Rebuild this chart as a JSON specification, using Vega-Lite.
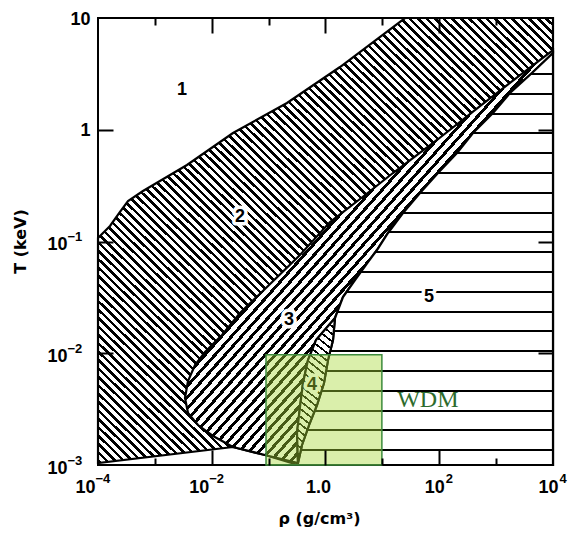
{
"$schema": "https://vega.github.io/schema/vega-lite/v6.json",
"width": 455,
"height": 447,
"autosize": {"type": "none"},
"padding": {"left": 98, "top": 18, "right": 17, "bottom": 70},
"background": "white",
"config": {"view": {"stroke": "black", "strokeWidth": 2},
"axis": {"domain": false, "grid": false, "labelFont": "Liberation Sans", "labelFontWeight": "bold", "labelColor": "black", "labelFlush": false, "labelOverlap": false, "tickColor": "black"}},
"datasets": {
"r2": [
{"i":0,"rho":0.0001,"T":0.1075},{"i":1,"rho":0.0001626,"T":0.1376},{"i":2,"rho":0.0002436,"T":0.1837},{"i":3,"rho":0.000337,"T":0.2304},{"i":4,"rho":0.000618,"T":0.2831},{"i":5,"rho":0.00367,"T":0.4838},{"i":6,"rho":0.02363,"T":0.935},{"i":7,"rho":0.2103,"T":1.735},{"i":8,"rho":1.799,"T":3.643},{"i":9,"rho":25,"T":10},{"i":10,"rho":10000,"T":10},{"i":11,"rho":10000,"T":0.001},{"i":12,"rho":0.3284,"T":0.001},{"i":13,"rho":0.08635,"T":0.001229},{"i":14,"rho":0.02363,"T":0.001449},{"i":15,"rho":0.0001,"T":0.001042}
],
"r3": [
{"i":0,"rho":10000,"T":5.171},{"i":1,"rho":3634,"T":3.496},{"i":2,"rho":520.6,"T":1.631},{"i":3,"rho":91.3,"T":0.8097},{"i":4,"rho":15.37,"T":0.4102},{"i":5,"rho":4.043,"T":0.2401},{"i":6,"rho":1.2,"T":0.1494},{"i":7,"rho":0.3561,"T":0.07571},{"i":8,"rho":0.09363,"T":0.03915},{"i":9,"rho":0.03138,"T":0.02292},{"i":10,"rho":0.01515,"T":0.01457},{"i":11,"rho":0.00761,"T":0.01026},{"i":12,"rho":0.005075,"T":0.00785},{"i":13,"rho":0.003824,"T":0.005645},{"i":14,"rho":0.003386,"T":0.003977},{"i":15,"rho":0.003824,"T":0.002919},{"i":16,"rho":0.00573,"T":0.002279},{"i":17,"rho":0.01052,"T":0.001818},{"i":18,"rho":0.02363,"T":0.001449},{"i":19,"rho":0.08635,"T":0.001229},{"i":20,"rho":0.3284,"T":0.001042},{"i":21,"rho":0.3155,"T":0.001934},{"i":22,"rho":0.3561,"T":0.003304},{"i":23,"rho":0.4022,"T":0.005418},{"i":24,"rho":0.4925,"T":0.0087},{"i":25,"rho":0.6808,"T":0.01314},{"i":26,"rho":1.469,"T":0.02067},{"i":27,"rho":2.031,"T":0.03187},{"i":28,"rho":3.302,"T":0.04523},{"i":29,"rho":5.588,"T":0.06555},{"i":30,"rho":8.045,"T":0.08393},{"i":31,"rho":12.56,"T":0.1192},{"i":32,"rho":23.04,"T":0.1799},{"i":33,"rho":45.86,"T":0.2716},{"i":34,"rho":95.06,"T":0.4102},{"i":35,"rho":205.2,"T":0.6193},{"i":36,"rho":392.1,"T":0.935},{"i":37,"rho":881.4,"T":1.412},{"i":38,"rho":1754,"T":2.132},{"i":39,"rho":4273,"T":3.219},{"i":40,"rho":10000,"T":4.862}
],
"r5": [
{"i":0,"rho":10000,"T":4.862},{"i":1,"rho":4273,"T":3.219},{"i":2,"rho":1754,"T":2.132},{"i":3,"rho":881.4,"T":1.412},{"i":4,"rho":392.1,"T":0.935},{"i":5,"rho":205.2,"T":0.6193},{"i":6,"rho":95.06,"T":0.4102},{"i":7,"rho":45.86,"T":0.2716},{"i":8,"rho":23.04,"T":0.1799},{"i":9,"rho":12.56,"T":0.1192},{"i":10,"rho":8.045,"T":0.08393},{"i":11,"rho":5.588,"T":0.06555},{"i":12,"rho":3.302,"T":0.04523},{"i":13,"rho":2.031,"T":0.03187},{"i":14,"rho":1.469,"T":0.02067},{"i":15,"rho":1.355,"T":0.01314},{"i":16,"rho":1.107,"T":0.0087},{"i":17,"rho":0.941,"T":0.005418},{"i":18,"rho":0.7087,"T":0.003442},{"i":19,"rho":0.5128,"T":0.002279},{"i":20,"rho":0.3862,"T":0.00151},{"i":21,"rho":0.3284,"T":0.001042},{"i":22,"rho":0.3284,"T":0.001},{"i":23,"rho":10000,"T":0.001}
],
"r4": [
{"i":0,"rho":1.469,"T":0.02067},{"i":1,"rho":1.355,"T":0.01314},{"i":2,"rho":1.107,"T":0.0087},{"i":3,"rho":0.941,"T":0.005418},{"i":4,"rho":0.7087,"T":0.003442},{"i":5,"rho":0.5128,"T":0.002279},{"i":6,"rho":0.3862,"T":0.00151},{"i":7,"rho":0.3284,"T":0.001042},{"i":8,"rho":0.3155,"T":0.001934},{"i":9,"rho":0.3561,"T":0.003304},{"i":10,"rho":0.4022,"T":0.005418},{"i":11,"rho":0.4925,"T":0.0087},{"i":12,"rho":0.6808,"T":0.01314}
],
"labels": [
{"rho":0.003,"T":2.046,"t":"1"},{"rho":0.03138,"T":0.1494,"t":"2"},{"rho":0.2281,"T":0.0179,"t":"3"},{"rho":0.5789,"T":0.00469,"t":"4"},{"rho":66.0,"T":0.02874,"t":"5"}
],
"box": [{"rho":0.09,"rho2":9.8,"T":0.001,"T2":0.0097}],
"wdm": [{"rho":63,"T":0.0033,"t":"WDM"}]
},
"resolve": {"axis": {"x": "independent", "y": "independent"}},
"layer": [
{
"data": {"name": "r2"},
"mark": {"type": "line", "interpolate": "linear-closed", "stroke": "black", "strokeWidth": 2.2,
"fill": {"gradient": "linear", "x1": 0, "y1": 1, "x2": 1, "y2": 0, "stops": [
{"offset":0.003,"color":"#fff"},{"offset":0.003,"color":"#000"},{"offset":0.007,"color":"#000"},{"offset":0.007,"color":"#fff"},
{"offset":0.0124,"color":"#fff"},{"offset":0.0124,"color":"#000"},{"offset":0.0164,"color":"#000"},{"offset":0.0164,"color":"#fff"},
{"offset":0.0218,"color":"#fff"},{"offset":0.0218,"color":"#000"},{"offset":0.0258,"color":"#000"},{"offset":0.0258,"color":"#fff"},
{"offset":0.0312,"color":"#fff"},{"offset":0.0312,"color":"#000"},{"offset":0.0352,"color":"#000"},{"offset":0.0352,"color":"#fff"},
{"offset":0.0406,"color":"#fff"},{"offset":0.0406,"color":"#000"},{"offset":0.0446,"color":"#000"},{"offset":0.0446,"color":"#fff"},
{"offset":0.05,"color":"#fff"},{"offset":0.05,"color":"#000"},{"offset":0.054,"color":"#000"},{"offset":0.054,"color":"#fff"},
{"offset":0.0594,"color":"#fff"},{"offset":0.0594,"color":"#000"},{"offset":0.0634,"color":"#000"},{"offset":0.0634,"color":"#fff"},
{"offset":0.0688,"color":"#fff"},{"offset":0.0688,"color":"#000"},{"offset":0.0728,"color":"#000"},{"offset":0.0728,"color":"#fff"},
{"offset":0.0782,"color":"#fff"},{"offset":0.0782,"color":"#000"},{"offset":0.0822,"color":"#000"},{"offset":0.0822,"color":"#fff"},
{"offset":0.0876,"color":"#fff"},{"offset":0.0876,"color":"#000"},{"offset":0.0916,"color":"#000"},{"offset":0.0916,"color":"#fff"},
{"offset":0.097,"color":"#fff"},{"offset":0.097,"color":"#000"},{"offset":0.101,"color":"#000"},{"offset":0.101,"color":"#fff"},
{"offset":0.1064,"color":"#fff"},{"offset":0.1064,"color":"#000"},{"offset":0.1104,"color":"#000"},{"offset":0.1104,"color":"#fff"},
{"offset":0.1158,"color":"#fff"},{"offset":0.1158,"color":"#000"},{"offset":0.1198,"color":"#000"},{"offset":0.1198,"color":"#fff"},
{"offset":0.1252,"color":"#fff"},{"offset":0.1252,"color":"#000"},{"offset":0.1292,"color":"#000"},{"offset":0.1292,"color":"#fff"},
{"offset":0.1346,"color":"#fff"},{"offset":0.1346,"color":"#000"},{"offset":0.1386,"color":"#000"},{"offset":0.1386,"color":"#fff"},
{"offset":0.144,"color":"#fff"},{"offset":0.144,"color":"#000"},{"offset":0.148,"color":"#000"},{"offset":0.148,"color":"#fff"},
{"offset":0.1534,"color":"#fff"},{"offset":0.1534,"color":"#000"},{"offset":0.1574,"color":"#000"},{"offset":0.1574,"color":"#fff"},
{"offset":0.1628,"color":"#fff"},{"offset":0.1628,"color":"#000"},{"offset":0.1668,"color":"#000"},{"offset":0.1668,"color":"#fff"},
{"offset":0.1722,"color":"#fff"},{"offset":0.1722,"color":"#000"},{"offset":0.1762,"color":"#000"},{"offset":0.1762,"color":"#fff"},
{"offset":0.1816,"color":"#fff"},{"offset":0.1816,"color":"#000"},{"offset":0.1856,"color":"#000"},{"offset":0.1856,"color":"#fff"},
{"offset":0.191,"color":"#fff"},{"offset":0.191,"color":"#000"},{"offset":0.195,"color":"#000"},{"offset":0.195,"color":"#fff"},
{"offset":0.2004,"color":"#fff"},{"offset":0.2004,"color":"#000"},{"offset":0.2044,"color":"#000"},{"offset":0.2044,"color":"#fff"},
{"offset":0.2098,"color":"#fff"},{"offset":0.2098,"color":"#000"},{"offset":0.2138,"color":"#000"},{"offset":0.2138,"color":"#fff"},
{"offset":0.2192,"color":"#fff"},{"offset":0.2192,"color":"#000"},{"offset":0.2232,"color":"#000"},{"offset":0.2232,"color":"#fff"},
{"offset":0.2286,"color":"#fff"},{"offset":0.2286,"color":"#000"},{"offset":0.2326,"color":"#000"},{"offset":0.2326,"color":"#fff"},
{"offset":0.238,"color":"#fff"},{"offset":0.238,"color":"#000"},{"offset":0.242,"color":"#000"},{"offset":0.242,"color":"#fff"},
{"offset":0.2474,"color":"#fff"},{"offset":0.2474,"color":"#000"},{"offset":0.2514,"color":"#000"},{"offset":0.2514,"color":"#fff"},
{"offset":0.2568,"color":"#fff"},{"offset":0.2568,"color":"#000"},{"offset":0.2608,"color":"#000"},{"offset":0.2608,"color":"#fff"},
{"offset":0.2662,"color":"#fff"},{"offset":0.2662,"color":"#000"},{"offset":0.2702,"color":"#000"},{"offset":0.2702,"color":"#fff"},
{"offset":0.2756,"color":"#fff"},{"offset":0.2756,"color":"#000"},{"offset":0.2796,"color":"#000"},{"offset":0.2796,"color":"#fff"},
{"offset":0.285,"color":"#fff"},{"offset":0.285,"color":"#000"},{"offset":0.289,"color":"#000"},{"offset":0.289,"color":"#fff"},
{"offset":0.2944,"color":"#fff"},{"offset":0.2944,"color":"#000"},{"offset":0.2984,"color":"#000"},{"offset":0.2984,"color":"#fff"},
{"offset":0.3038,"color":"#fff"},{"offset":0.3038,"color":"#000"},{"offset":0.3078,"color":"#000"},{"offset":0.3078,"color":"#fff"},
{"offset":0.3132,"color":"#fff"},{"offset":0.3132,"color":"#000"},{"offset":0.3172,"color":"#000"},{"offset":0.3172,"color":"#fff"},
{"offset":0.3226,"color":"#fff"},{"offset":0.3226,"color":"#000"},{"offset":0.3266,"color":"#000"},{"offset":0.3266,"color":"#fff"},
{"offset":0.332,"color":"#fff"},{"offset":0.332,"color":"#000"},{"offset":0.336,"color":"#000"},{"offset":0.336,"color":"#fff"},
{"offset":0.3414,"color":"#fff"},{"offset":0.3414,"color":"#000"},{"offset":0.3454,"color":"#000"},{"offset":0.3454,"color":"#fff"},
{"offset":0.3508,"color":"#fff"},{"offset":0.3508,"color":"#000"},{"offset":0.3548,"color":"#000"},{"offset":0.3548,"color":"#fff"},
{"offset":0.3602,"color":"#fff"},{"offset":0.3602,"color":"#000"},{"offset":0.3642,"color":"#000"},{"offset":0.3642,"color":"#fff"},
{"offset":0.3696,"color":"#fff"},{"offset":0.3696,"color":"#000"},{"offset":0.3736,"color":"#000"},{"offset":0.3736,"color":"#fff"},
{"offset":0.379,"color":"#fff"},{"offset":0.379,"color":"#000"},{"offset":0.383,"color":"#000"},{"offset":0.383,"color":"#fff"},
{"offset":0.3884,"color":"#fff"},{"offset":0.3884,"color":"#000"},{"offset":0.3924,"color":"#000"},{"offset":0.3924,"color":"#fff"},
{"offset":0.3978,"color":"#fff"},{"offset":0.3978,"color":"#000"},{"offset":0.4018,"color":"#000"},{"offset":0.4018,"color":"#fff"},
{"offset":0.4072,"color":"#fff"},{"offset":0.4072,"color":"#000"},{"offset":0.4112,"color":"#000"},{"offset":0.4112,"color":"#fff"},
{"offset":0.4166,"color":"#fff"},{"offset":0.4166,"color":"#000"},{"offset":0.4206,"color":"#000"},{"offset":0.4206,"color":"#fff"},
{"offset":0.426,"color":"#fff"},{"offset":0.426,"color":"#000"},{"offset":0.43,"color":"#000"},{"offset":0.43,"color":"#fff"},
{"offset":0.4354,"color":"#fff"},{"offset":0.4354,"color":"#000"},{"offset":0.4394,"color":"#000"},{"offset":0.4394,"color":"#fff"},
{"offset":0.4448,"color":"#fff"},{"offset":0.4448,"color":"#000"},{"offset":0.4488,"color":"#000"},{"offset":0.4488,"color":"#fff"},
{"offset":0.4542,"color":"#fff"},{"offset":0.4542,"color":"#000"},{"offset":0.4582,"color":"#000"},{"offset":0.4582,"color":"#fff"},
{"offset":0.4636,"color":"#fff"},{"offset":0.4636,"color":"#000"},{"offset":0.4676,"color":"#000"},{"offset":0.4676,"color":"#fff"},
{"offset":0.473,"color":"#fff"},{"offset":0.473,"color":"#000"},{"offset":0.477,"color":"#000"},{"offset":0.477,"color":"#fff"},
{"offset":0.4824,"color":"#fff"},{"offset":0.4824,"color":"#000"},{"offset":0.4864,"color":"#000"},{"offset":0.4864,"color":"#fff"},
{"offset":0.4918,"color":"#fff"},{"offset":0.4918,"color":"#000"},{"offset":0.4958,"color":"#000"},{"offset":0.4958,"color":"#fff"},
{"offset":0.5012,"color":"#fff"},{"offset":0.5012,"color":"#000"},{"offset":0.5052,"color":"#000"},{"offset":0.5052,"color":"#fff"},
{"offset":0.5106,"color":"#fff"},{"offset":0.5106,"color":"#000"},{"offset":0.5146,"color":"#000"},{"offset":0.5146,"color":"#fff"},
{"offset":0.52,"color":"#fff"},{"offset":0.52,"color":"#000"},{"offset":0.524,"color":"#000"},{"offset":0.524,"color":"#fff"},
{"offset":0.5294,"color":"#fff"},{"offset":0.5294,"color":"#000"},{"offset":0.5334,"color":"#000"},{"offset":0.5334,"color":"#fff"},
{"offset":0.5388,"color":"#fff"},{"offset":0.5388,"color":"#000"},{"offset":0.5428,"color":"#000"},{"offset":0.5428,"color":"#fff"},
{"offset":0.5482,"color":"#fff"},{"offset":0.5482,"color":"#000"},{"offset":0.5522,"color":"#000"},{"offset":0.5522,"color":"#fff"},
{"offset":0.5576,"color":"#fff"},{"offset":0.5576,"color":"#000"},{"offset":0.5616,"color":"#000"},{"offset":0.5616,"color":"#fff"},
{"offset":0.567,"color":"#fff"},{"offset":0.567,"color":"#000"},{"offset":0.571,"color":"#000"},{"offset":0.571,"color":"#fff"},
{"offset":0.5764,"color":"#fff"},{"offset":0.5764,"color":"#000"},{"offset":0.5804,"color":"#000"},{"offset":0.5804,"color":"#fff"},
{"offset":0.5858,"color":"#fff"},{"offset":0.5858,"color":"#000"},{"offset":0.5898,"color":"#000"},{"offset":0.5898,"color":"#fff"},
{"offset":0.5952,"color":"#fff"},{"offset":0.5952,"color":"#000"},{"offset":0.5992,"color":"#000"},{"offset":0.5992,"color":"#fff"},
{"offset":0.6046,"color":"#fff"},{"offset":0.6046,"color":"#000"},{"offset":0.6086,"color":"#000"},{"offset":0.6086,"color":"#fff"},
{"offset":0.614,"color":"#fff"},{"offset":0.614,"color":"#000"},{"offset":0.618,"color":"#000"},{"offset":0.618,"color":"#fff"},
{"offset":0.6234,"color":"#fff"},{"offset":0.6234,"color":"#000"},{"offset":0.6274,"color":"#000"},{"offset":0.6274,"color":"#fff"},
{"offset":0.6328,"color":"#fff"},{"offset":0.6328,"color":"#000"},{"offset":0.6368,"color":"#000"},{"offset":0.6368,"color":"#fff"},
{"offset":0.6422,"color":"#fff"},{"offset":0.6422,"color":"#000"},{"offset":0.6462,"color":"#000"},{"offset":0.6462,"color":"#fff"},
{"offset":0.6516,"color":"#fff"},{"offset":0.6516,"color":"#000"},{"offset":0.6556,"color":"#000"},{"offset":0.6556,"color":"#fff"},
{"offset":0.661,"color":"#fff"},{"offset":0.661,"color":"#000"},{"offset":0.665,"color":"#000"},{"offset":0.665,"color":"#fff"},
{"offset":0.6704,"color":"#fff"},{"offset":0.6704,"color":"#000"},{"offset":0.6744,"color":"#000"},{"offset":0.6744,"color":"#fff"},
{"offset":0.6798,"color":"#fff"},{"offset":0.6798,"color":"#000"},{"offset":0.6838,"color":"#000"},{"offset":0.6838,"color":"#fff"},
{"offset":0.6892,"color":"#fff"},{"offset":0.6892,"color":"#000"},{"offset":0.6932,"color":"#000"},{"offset":0.6932,"color":"#fff"},
{"offset":0.6986,"color":"#fff"},{"offset":0.6986,"color":"#000"},{"offset":0.7026,"color":"#000"},{"offset":0.7026,"color":"#fff"},
{"offset":0.708,"color":"#fff"},{"offset":0.708,"color":"#000"},{"offset":0.712,"color":"#000"},{"offset":0.712,"color":"#fff"},
{"offset":0.7174,"color":"#fff"},{"offset":0.7174,"color":"#000"},{"offset":0.7214,"color":"#000"},{"offset":0.7214,"color":"#fff"},
{"offset":0.7268,"color":"#fff"},{"offset":0.7268,"color":"#000"},{"offset":0.7308,"color":"#000"},{"offset":0.7308,"color":"#fff"},
{"offset":0.7362,"color":"#fff"},{"offset":0.7362,"color":"#000"},{"offset":0.7402,"color":"#000"},{"offset":0.7402,"color":"#fff"},
{"offset":0.7456,"color":"#fff"},{"offset":0.7456,"color":"#000"},{"offset":0.7496,"color":"#000"},{"offset":0.7496,"color":"#fff"},
{"offset":0.755,"color":"#fff"},{"offset":0.755,"color":"#000"},{"offset":0.759,"color":"#000"},{"offset":0.759,"color":"#fff"},
{"offset":0.7644,"color":"#fff"},{"offset":0.7644,"color":"#000"},{"offset":0.7684,"color":"#000"},{"offset":0.7684,"color":"#fff"},
{"offset":0.7738,"color":"#fff"},{"offset":0.7738,"color":"#000"},{"offset":0.7778,"color":"#000"},{"offset":0.7778,"color":"#fff"},
{"offset":0.7832,"color":"#fff"},{"offset":0.7832,"color":"#000"},{"offset":0.7872,"color":"#000"},{"offset":0.7872,"color":"#fff"},
{"offset":0.7926,"color":"#fff"},{"offset":0.7926,"color":"#000"},{"offset":0.7966,"color":"#000"},{"offset":0.7966,"color":"#fff"},
{"offset":0.802,"color":"#fff"},{"offset":0.802,"color":"#000"},{"offset":0.806,"color":"#000"},{"offset":0.806,"color":"#fff"},
{"offset":0.8114,"color":"#fff"},{"offset":0.8114,"color":"#000"},{"offset":0.8154,"color":"#000"},{"offset":0.8154,"color":"#fff"},
{"offset":0.8208,"color":"#fff"},{"offset":0.8208,"color":"#000"},{"offset":0.8248,"color":"#000"},{"offset":0.8248,"color":"#fff"},
{"offset":0.8302,"color":"#fff"},{"offset":0.8302,"color":"#000"},{"offset":0.8342,"color":"#000"},{"offset":0.8342,"color":"#fff"},
{"offset":0.8396,"color":"#fff"},{"offset":0.8396,"color":"#000"},{"offset":0.8436,"color":"#000"},{"offset":0.8436,"color":"#fff"},
{"offset":0.849,"color":"#fff"},{"offset":0.849,"color":"#000"},{"offset":0.853,"color":"#000"},{"offset":0.853,"color":"#fff"},
{"offset":0.8584,"color":"#fff"},{"offset":0.8584,"color":"#000"},{"offset":0.8624,"color":"#000"},{"offset":0.8624,"color":"#fff"},
{"offset":0.8678,"color":"#fff"},{"offset":0.8678,"color":"#000"},{"offset":0.8718,"color":"#000"},{"offset":0.8718,"color":"#fff"},
{"offset":0.8772,"color":"#fff"},{"offset":0.8772,"color":"#000"},{"offset":0.8812,"color":"#000"},{"offset":0.8812,"color":"#fff"},
{"offset":0.8866,"color":"#fff"},{"offset":0.8866,"color":"#000"},{"offset":0.8906,"color":"#000"},{"offset":0.8906,"color":"#fff"},
{"offset":0.896,"color":"#fff"},{"offset":0.896,"color":"#000"},{"offset":0.9,"color":"#000"},{"offset":0.9,"color":"#fff"},
{"offset":0.9054,"color":"#fff"},{"offset":0.9054,"color":"#000"},{"offset":0.9094,"color":"#000"},{"offset":0.9094,"color":"#fff"},
{"offset":0.9148,"color":"#fff"},{"offset":0.9148,"color":"#000"},{"offset":0.9188,"color":"#000"},{"offset":0.9188,"color":"#fff"},
{"offset":0.9242,"color":"#fff"},{"offset":0.9242,"color":"#000"},{"offset":0.9282,"color":"#000"},{"offset":0.9282,"color":"#fff"},
{"offset":0.9336,"color":"#fff"},{"offset":0.9336,"color":"#000"},{"offset":0.9376,"color":"#000"},{"offset":0.9376,"color":"#fff"},
{"offset":0.943,"color":"#fff"},{"offset":0.943,"color":"#000"},{"offset":0.947,"color":"#000"},{"offset":0.947,"color":"#fff"},
{"offset":0.9524,"color":"#fff"},{"offset":0.9524,"color":"#000"},{"offset":0.9564,"color":"#000"},{"offset":0.9564,"color":"#fff"},
{"offset":0.9618,"color":"#fff"},{"offset":0.9618,"color":"#000"},{"offset":0.9658,"color":"#000"},{"offset":0.9658,"color":"#fff"},
{"offset":0.9712,"color":"#fff"},{"offset":0.9712,"color":"#000"},{"offset":0.9752,"color":"#000"},{"offset":0.9752,"color":"#fff"},
{"offset":0.9806,"color":"#fff"},{"offset":0.9806,"color":"#000"},{"offset":0.9846,"color":"#000"},{"offset":0.9846,"color":"#fff"},
{"offset":0.99,"color":"#fff"},{"offset":0.99,"color":"#000"},{"offset":0.994,"color":"#000"},{"offset":0.994,"color":"#fff"}
]}},
"encoding": {
"x": {"field": "rho", "type": "quantitative", "scale": {"type": "log", "domain": [0.0001, 10000], "nice": false},
"axis": {"orient": "bottom", "values": [0.0001, 0.01], "labelExpr": "'10'", "ticks": false, "tickSize": 0, "labelFontSize": 18, "labelPadding": 27, "labelBaseline": "alphabetic", "labelAlign": "right", "labelOffset": -3, "title": "ρ (g/cm³)", "titleFont": "DejaVu Sans", "titleFontWeight": "bold", "titleFontSize": 16, "titleColor": "black", "titleX": 221, "titleY": 58, "titleBaseline": "alphabetic", "titleAlign": "center"}},
"y": {"field": "T", "type": "quantitative", "scale": {"type": "log", "domain": [0.001, 10], "nice": false},
"axis": {"orient": "left", "values": [1, 10], "labelExpr": "datum.value < 5 ? '1' : '10'", "ticks": false, "tickSize": 0, "labelFontSize": 18, "labelPadding": 8, "labelOffset": 1, "title": "T (keV)", "titleFont": "DejaVu Sans", "titleFontWeight": "bold", "titleFontSize": 16, "titleColor": "black", "titleX": -73, "titleY": 223, "titleBaseline": "alphabetic", "titleAlign": "center"}},
"order": {"field": "i", "type": "quantitative"}
}
},
{
"data": {"name": "r3"},
"mark": {"type": "line", "interpolate": "linear-closed", "stroke": "black", "strokeWidth": 2.2,
"fill": {"gradient": "linear", "x1": 0, "y1": 0, "x2": 1, "y2": 1, "stops": [
{"offset":0.38,"color":"#fff"},{"offset":0.38,"color":"#000"},{"offset":0.3855,"color":"#000"},{"offset":0.3855,"color":"#fff"},
{"offset":0.3936,"color":"#fff"},{"offset":0.3936,"color":"#000"},{"offset":0.3991,"color":"#000"},{"offset":0.3991,"color":"#fff"},
{"offset":0.4072,"color":"#fff"},{"offset":0.4072,"color":"#000"},{"offset":0.4127,"color":"#000"},{"offset":0.4127,"color":"#fff"},
{"offset":0.4208,"color":"#fff"},{"offset":0.4208,"color":"#000"},{"offset":0.4263,"color":"#000"},{"offset":0.4263,"color":"#fff"},
{"offset":0.4344,"color":"#fff"},{"offset":0.4344,"color":"#000"},{"offset":0.4399,"color":"#000"},{"offset":0.4399,"color":"#fff"},
{"offset":0.448,"color":"#fff"},{"offset":0.448,"color":"#000"},{"offset":0.4535,"color":"#000"},{"offset":0.4535,"color":"#fff"},
{"offset":0.4616,"color":"#fff"},{"offset":0.4616,"color":"#000"},{"offset":0.4671,"color":"#000"},{"offset":0.4671,"color":"#fff"},
{"offset":0.4752,"color":"#fff"},{"offset":0.4752,"color":"#000"},{"offset":0.4807,"color":"#000"},{"offset":0.4807,"color":"#fff"},
{"offset":0.4888,"color":"#fff"},{"offset":0.4888,"color":"#000"},{"offset":0.4943,"color":"#000"},{"offset":0.4943,"color":"#fff"},
{"offset":0.5024,"color":"#fff"},{"offset":0.5024,"color":"#000"},{"offset":0.5079,"color":"#000"},{"offset":0.5079,"color":"#fff"},
{"offset":0.516,"color":"#fff"},{"offset":0.516,"color":"#000"},{"offset":0.5215,"color":"#000"},{"offset":0.5215,"color":"#fff"},
{"offset":0.5296,"color":"#fff"},{"offset":0.5296,"color":"#000"},{"offset":0.5351,"color":"#000"},{"offset":0.5351,"color":"#fff"},
{"offset":0.5432,"color":"#fff"},{"offset":0.5432,"color":"#000"},{"offset":0.5487,"color":"#000"},{"offset":0.5487,"color":"#fff"},
{"offset":0.5568,"color":"#fff"},{"offset":0.5568,"color":"#000"},{"offset":0.5623,"color":"#000"},{"offset":0.5623,"color":"#fff"},
{"offset":0.5704,"color":"#fff"},{"offset":0.5704,"color":"#000"},{"offset":0.5759,"color":"#000"},{"offset":0.5759,"color":"#fff"},
{"offset":0.584,"color":"#fff"},{"offset":0.584,"color":"#000"},{"offset":0.5895,"color":"#000"},{"offset":0.5895,"color":"#fff"},
{"offset":0.5976,"color":"#fff"},{"offset":0.5976,"color":"#000"},{"offset":0.6031,"color":"#000"},{"offset":0.6031,"color":"#fff"},
{"offset":0.6112,"color":"#fff"},{"offset":0.6112,"color":"#000"},{"offset":0.6167,"color":"#000"},{"offset":0.6167,"color":"#fff"},
{"offset":0.6248,"color":"#fff"},{"offset":0.6248,"color":"#000"},{"offset":0.6303,"color":"#000"},{"offset":0.6303,"color":"#fff"},
{"offset":0.6384,"color":"#fff"},{"offset":0.6384,"color":"#000"},{"offset":0.6439,"color":"#000"},{"offset":0.6439,"color":"#fff"},
{"offset":0.652,"color":"#fff"},{"offset":0.652,"color":"#000"},{"offset":0.6575,"color":"#000"},{"offset":0.6575,"color":"#fff"},
{"offset":0.6656,"color":"#fff"},{"offset":0.6656,"color":"#000"},{"offset":0.6711,"color":"#000"},{"offset":0.6711,"color":"#fff"}
]}},
"encoding": {
"x": {"field": "rho", "type": "quantitative", "scale": {"type": "log", "domain": [0.0001, 10000], "nice": false},
"axis": {"orient": "bottom", "values": [0.01, 1, 100], "labels": false, "ticks": true, "tickSize": -15, "tickWidth": 2, "title": null, "zindex": 1}},
"y": {"field": "T", "type": "quantitative", "scale": {"type": "log", "domain": [0.001, 10], "nice": false},
"axis": {"orient": "left", "values": [0.01, 0.1, 1], "labels": false, "ticks": true, "tickSize": -15, "tickWidth": 2, "title": null, "zindex": 1}},
"order": {"field": "i", "type": "quantitative"}
}
},
{
"data": {"name": "r5"},
"mark": {"type": "line", "interpolate": "linear-closed", "stroke": "black", "strokeWidth": 2.2,
"fill": {"gradient": "linear", "x1": 0, "y1": 0, "x2": 0, "y2": 1, "stops": [
{"offset":0.0484,"color":"#fff"},{"offset":0.0484,"color":"#000"},{"offset":0.0532,"color":"#000"},{"offset":0.0532,"color":"#fff"},
{"offset":0.0965,"color":"#fff"},{"offset":0.0965,"color":"#000"},{"offset":0.1013,"color":"#000"},{"offset":0.1013,"color":"#fff"},
{"offset":0.1446,"color":"#fff"},{"offset":0.1446,"color":"#000"},{"offset":0.1494,"color":"#000"},{"offset":0.1494,"color":"#fff"},
{"offset":0.1926,"color":"#fff"},{"offset":0.1926,"color":"#000"},{"offset":0.1974,"color":"#000"},{"offset":0.1974,"color":"#fff"},
{"offset":0.2407,"color":"#fff"},{"offset":0.2407,"color":"#000"},{"offset":0.2455,"color":"#000"},{"offset":0.2455,"color":"#fff"},
{"offset":0.2888,"color":"#fff"},{"offset":0.2888,"color":"#000"},{"offset":0.2936,"color":"#000"},{"offset":0.2936,"color":"#fff"},
{"offset":0.3368,"color":"#fff"},{"offset":0.3368,"color":"#000"},{"offset":0.3416,"color":"#000"},{"offset":0.3416,"color":"#fff"},
{"offset":0.3849,"color":"#fff"},{"offset":0.3849,"color":"#000"},{"offset":0.3897,"color":"#000"},{"offset":0.3897,"color":"#fff"},
{"offset":0.433,"color":"#fff"},{"offset":0.433,"color":"#000"},{"offset":0.4378,"color":"#000"},{"offset":0.4378,"color":"#fff"},
{"offset":0.481,"color":"#fff"},{"offset":0.481,"color":"#000"},{"offset":0.4858,"color":"#000"},{"offset":0.4858,"color":"#fff"},
{"offset":0.5291,"color":"#fff"},{"offset":0.5291,"color":"#000"},{"offset":0.5339,"color":"#000"},{"offset":0.5339,"color":"#fff"},
{"offset":0.5771,"color":"#fff"},{"offset":0.5771,"color":"#000"},{"offset":0.5819,"color":"#000"},{"offset":0.5819,"color":"#fff"},
{"offset":0.6252,"color":"#fff"},{"offset":0.6252,"color":"#000"},{"offset":0.63,"color":"#000"},{"offset":0.63,"color":"#fff"},
{"offset":0.6733,"color":"#fff"},{"offset":0.6733,"color":"#000"},{"offset":0.6781,"color":"#000"},{"offset":0.6781,"color":"#fff"},
{"offset":0.7213,"color":"#fff"},{"offset":0.7213,"color":"#000"},{"offset":0.7261,"color":"#000"},{"offset":0.7261,"color":"#fff"},
{"offset":0.7694,"color":"#fff"},{"offset":0.7694,"color":"#000"},{"offset":0.7742,"color":"#000"},{"offset":0.7742,"color":"#fff"},
{"offset":0.8175,"color":"#fff"},{"offset":0.8175,"color":"#000"},{"offset":0.8223,"color":"#000"},{"offset":0.8223,"color":"#fff"},
{"offset":0.8655,"color":"#fff"},{"offset":0.8655,"color":"#000"},{"offset":0.8703,"color":"#000"},{"offset":0.8703,"color":"#fff"},
{"offset":0.9136,"color":"#fff"},{"offset":0.9136,"color":"#000"},{"offset":0.9184,"color":"#000"},{"offset":0.9184,"color":"#fff"},
{"offset":0.9616,"color":"#fff"},{"offset":0.9616,"color":"#000"},{"offset":0.9664,"color":"#000"},{"offset":0.9664,"color":"#fff"}
]}},
"encoding": {
"x": {"field": "rho", "type": "quantitative", "scale": {"type": "log", "domain": [0.0001, 10000], "nice": false},
"axis": {"orient": "top", "values": [0.01, 1, 100], "labels": false, "ticks": true, "tickSize": -15, "tickWidth": 2, "title": null, "zindex": 1}},
"y": {"field": "T", "type": "quantitative", "scale": {"type": "log", "domain": [0.001, 10], "nice": false},
"axis": {"orient": "right", "values": [0.01, 0.1, 1], "labels": false, "ticks": true, "tickSize": -15, "tickWidth": 2, "title": null, "zindex": 1}},
"order": {"field": "i", "type": "quantitative"}
}
},
{
"data": {"name": "r4"},
"mark": {"type": "line", "interpolate": "linear-closed", "stroke": "black", "strokeWidth": 2.2,
"fill": {"gradient": "linear", "x1": 0, "y1": 1, "x2": 0.2413, "y2": -0.158, "stops": [
{"offset":0.01,"color":"#fff"},{"offset":0.01,"color":"#000"},{"offset":0.0225,"color":"#000"},{"offset":0.0225,"color":"#fff"},
{"offset":0.054,"color":"#fff"},{"offset":0.054,"color":"#000"},{"offset":0.0665,"color":"#000"},{"offset":0.0665,"color":"#fff"},
{"offset":0.098,"color":"#fff"},{"offset":0.098,"color":"#000"},{"offset":0.1105,"color":"#000"},{"offset":0.1105,"color":"#fff"},
{"offset":0.142,"color":"#fff"},{"offset":0.142,"color":"#000"},{"offset":0.1545,"color":"#000"},{"offset":0.1545,"color":"#fff"},
{"offset":0.186,"color":"#fff"},{"offset":0.186,"color":"#000"},{"offset":0.1985,"color":"#000"},{"offset":0.1985,"color":"#fff"},
{"offset":0.23,"color":"#fff"},{"offset":0.23,"color":"#000"},{"offset":0.2425,"color":"#000"},{"offset":0.2425,"color":"#fff"},
{"offset":0.274,"color":"#fff"},{"offset":0.274,"color":"#000"},{"offset":0.2865,"color":"#000"},{"offset":0.2865,"color":"#fff"},
{"offset":0.318,"color":"#fff"},{"offset":0.318,"color":"#000"},{"offset":0.3305,"color":"#000"},{"offset":0.3305,"color":"#fff"},
{"offset":0.362,"color":"#fff"},{"offset":0.362,"color":"#000"},{"offset":0.3745,"color":"#000"},{"offset":0.3745,"color":"#fff"},
{"offset":0.406,"color":"#fff"},{"offset":0.406,"color":"#000"},{"offset":0.4185,"color":"#000"},{"offset":0.4185,"color":"#fff"},
{"offset":0.45,"color":"#fff"},{"offset":0.45,"color":"#000"},{"offset":0.4625,"color":"#000"},{"offset":0.4625,"color":"#fff"},
{"offset":0.494,"color":"#fff"},{"offset":0.494,"color":"#000"},{"offset":0.5065,"color":"#000"},{"offset":0.5065,"color":"#fff"},
{"offset":0.538,"color":"#fff"},{"offset":0.538,"color":"#000"},{"offset":0.5505,"color":"#000"},{"offset":0.5505,"color":"#fff"},
{"offset":0.582,"color":"#fff"},{"offset":0.582,"color":"#000"},{"offset":0.5945,"color":"#000"},{"offset":0.5945,"color":"#fff"},
{"offset":0.626,"color":"#fff"},{"offset":0.626,"color":"#000"},{"offset":0.6385,"color":"#000"},{"offset":0.6385,"color":"#fff"},
{"offset":0.67,"color":"#fff"},{"offset":0.67,"color":"#000"},{"offset":0.6825,"color":"#000"},{"offset":0.6825,"color":"#fff"},
{"offset":0.714,"color":"#fff"},{"offset":0.714,"color":"#000"},{"offset":0.7265,"color":"#000"},{"offset":0.7265,"color":"#fff"},
{"offset":0.758,"color":"#fff"},{"offset":0.758,"color":"#000"},{"offset":0.7705,"color":"#000"},{"offset":0.7705,"color":"#fff"},
{"offset":0.802,"color":"#fff"},{"offset":0.802,"color":"#000"},{"offset":0.8145,"color":"#000"},{"offset":0.8145,"color":"#fff"},
{"offset":0.846,"color":"#fff"},{"offset":0.846,"color":"#000"},{"offset":0.8585,"color":"#000"},{"offset":0.8585,"color":"#fff"},
{"offset":0.89,"color":"#fff"},{"offset":0.89,"color":"#000"},{"offset":0.9025,"color":"#000"},{"offset":0.9025,"color":"#fff"},
{"offset":0.934,"color":"#fff"},{"offset":0.934,"color":"#000"},{"offset":0.9465,"color":"#000"},{"offset":0.9465,"color":"#fff"},
{"offset":0.978,"color":"#fff"},{"offset":0.978,"color":"#000"},{"offset":0.9905,"color":"#000"},{"offset":0.9905,"color":"#fff"}
]}},
"encoding": {
"x": {"field": "rho", "type": "quantitative", "scale": {"type": "log", "domain": [0.0001, 10000], "nice": false},
"axis": {"orient": "bottom", "values": [0.001, 0.1, 10, 1000], "labels": false, "ticks": true, "tickSize": -7, "tickWidth": 2, "title": null, "zindex": 1}},
"y": {"field": "T", "type": "quantitative", "scale": {"type": "log", "domain": [0.001, 10], "nice": false},
"axis": {"orient": "left", "values": [0.001, 0.01, 0.1], "labelExpr": "'10'", "ticks": false, "tickSize": 0, "labelFontSize": 18, "labelPadding": 31, "labelOffset": 3, "title": null}},
"order": {"field": "i", "type": "quantitative"}
}
},
{
"data": {"name": "labels"},
"mark": {"type": "text", "font": "Liberation Sans", "fontWeight": "bold", "fontSize": 18, "align": "center", "baseline": "alphabetic", "fill": "white", "stroke": "white", "strokeWidth": 7, "strokeJoin": "round"},
"encoding": {
"x": {"field": "rho", "type": "quantitative", "scale": {"type": "log", "domain": [0.0001, 10000], "nice": false},
"axis": {"orient": "bottom", "values": [1, 100, 10000], "labelExpr": "datum.value < 10 ? '1.0' : '10'", "ticks": false, "tickSize": 0, "labelFontSize": 18, "labelPadding": 27, "labelBaseline": "alphabetic", "labelAlign": "right", "labelOffset": 5, "title": null}},
"y": {"field": "T", "type": "quantitative", "scale": {"type": "log", "domain": [0.001, 10], "nice": false}, "axis": null},
"text": {"field": "t"}
}
},
{
"data": {"name": "labels"},
"mark": {"type": "text", "font": "Liberation Sans", "fontWeight": "bold", "fontSize": 18, "align": "center", "baseline": "alphabetic", "fill": "black"},
"encoding": {
"x": {"field": "rho", "type": "quantitative", "scale": {"type": "log", "domain": [0.0001, 10000], "nice": false},
"axis": {"orient": "bottom", "values": [0.0001, 0.01], "labelExpr": "datum.value < 0.001 ? '−4' : '−2'", "ticks": false, "tickSize": 0, "labelFontSize": 13, "labelPadding": 17, "labelBaseline": "alphabetic", "labelAlign": "left", "labelOffset": -3, "title": null}},
"y": {"field": "T", "type": "quantitative", "scale": {"type": "log", "domain": [0.001, 10], "nice": false}, "axis": null},
"text": {"field": "t"}
}
},
{
"data": {"name": "box"},
"mark": {"type": "rect", "fill": "#a8d838", "fillOpacity": 0.42, "stroke": "#3d8b3d", "strokeWidth": 1.5},
"encoding": {
"x": {"field": "rho", "type": "quantitative", "scale": {"type": "log", "domain": [0.0001, 10000], "nice": false},
"axis": {"orient": "top", "values": [0.001, 0.1, 10, 1000], "labels": false, "ticks": true, "tickSize": -7, "tickWidth": 2, "title": null, "zindex": 1}},
"x2": {"field": "rho2"},
"y": {"field": "T", "type": "quantitative", "scale": {"type": "log", "domain": [0.001, 10], "nice": false},
"axis": {"orient": "left", "values": [0.001, 0.01, 0.1], "labelExpr": "['−3','−2','−1'][round(log(datum.value)/LN10)+3]", "ticks": false, "tickSize": 0, "labelFontSize": 13, "labelPadding": 31, "labelAlign": "left", "labelOffset": -5, "title": null}},
"y2": {"field": "T2"}
}
},
{
"data": {"name": "wdm"},
"mark": {"type": "text", "font": "Liberation Serif", "fontSize": 24, "align": "center", "baseline": "alphabetic", "fill": "#2d6b2d"},
"encoding": {
"x": {"field": "rho", "type": "quantitative", "scale": {"type": "log", "domain": [0.0001, 10000], "nice": false},
"axis": {"orient": "bottom", "values": [100, 10000], "labelExpr": "datum.value < 1000 ? '2' : '4'", "ticks": false, "tickSize": 0, "labelFontSize": 13, "labelPadding": 17, "labelBaseline": "alphabetic", "labelAlign": "left", "labelOffset": 6, "title": null}},
"y": {"field": "T", "type": "quantitative", "scale": {"type": "log", "domain": [0.001, 10], "nice": false}, "axis": null},
"text": {"field": "t"}
}
}
]
}
